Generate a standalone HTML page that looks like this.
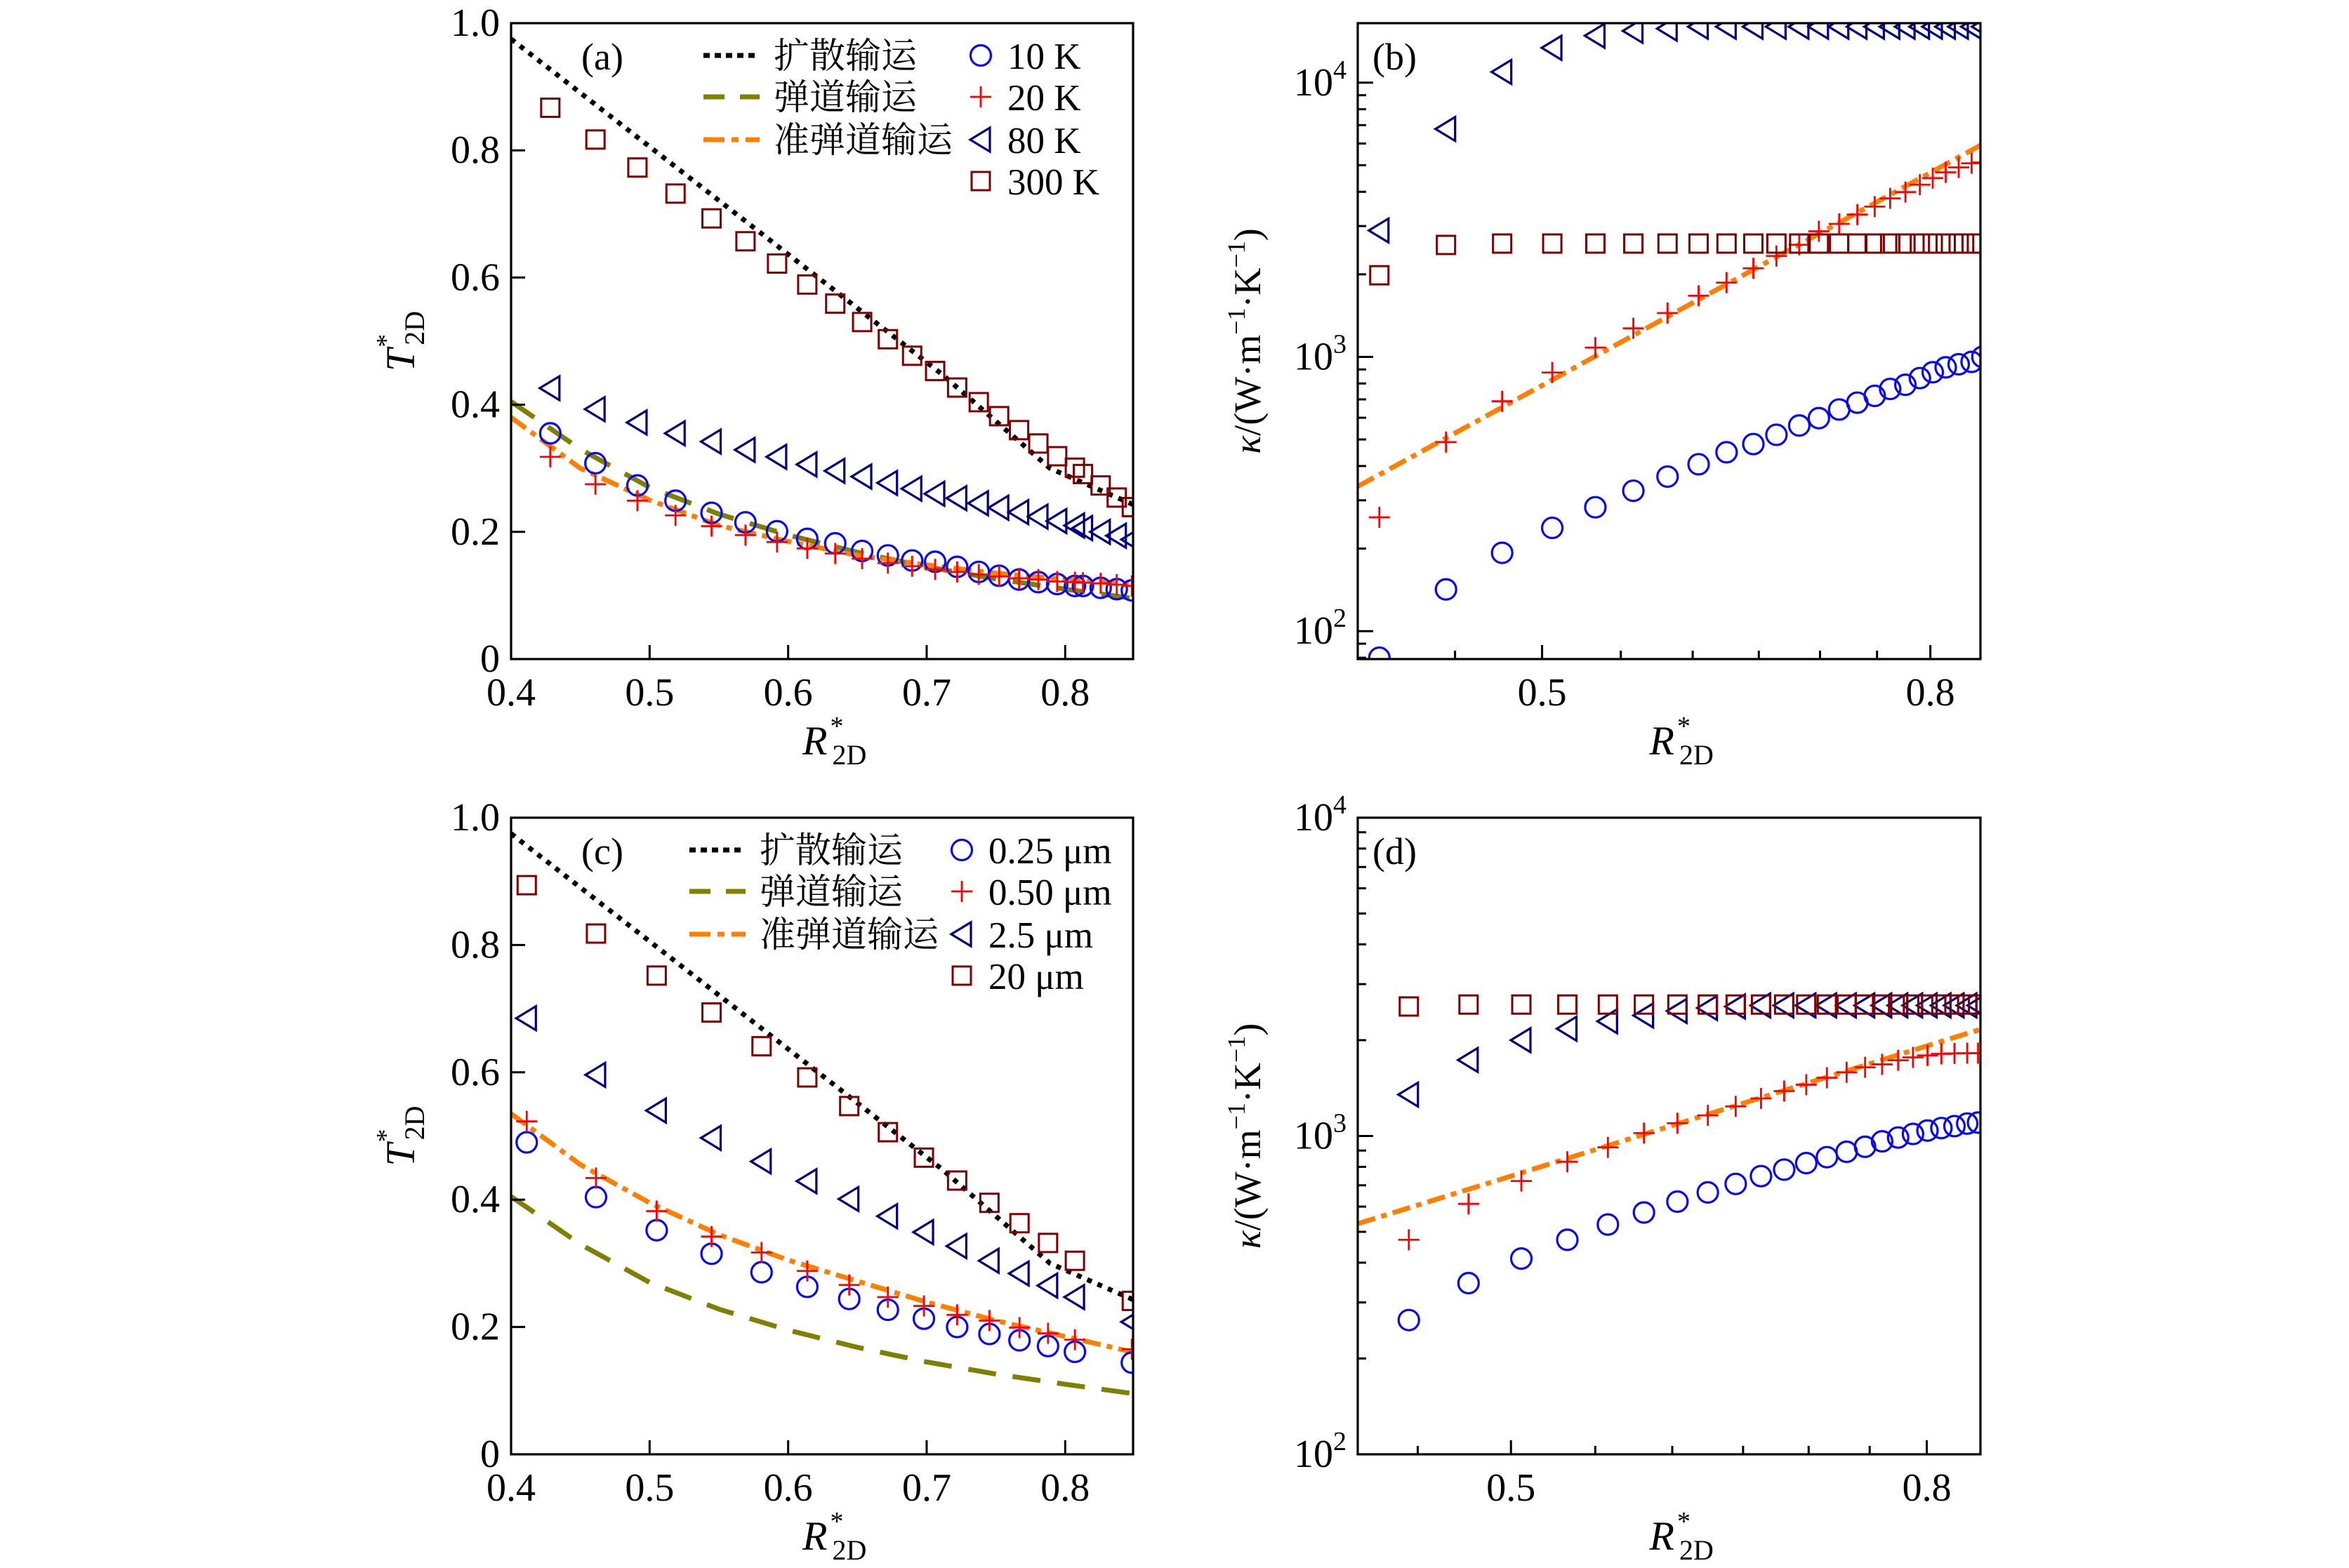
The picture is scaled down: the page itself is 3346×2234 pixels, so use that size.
<!DOCTYPE html>
<html><head><meta charset="utf-8">
<style>
html,body{margin:0;padding:0;background:#fff;}
svg{display:block;}
text{font-family:"Liberation Serif","Noto Serif CJK SC",serif;fill:#000;}
.cjk{font-family:"Liberation Serif","Noto Serif CJK SC","Noto Sans CJK SC",serif;}
</style></head>
<body>
<svg id="fig" width="3346" height="2234" viewBox="0 0 3346 2234" xmlns="http://www.w3.org/2000/svg"></svg>
<script>
// ---------- Data ----------
// Panel (a)
const rA = [0.4283,0.4609,0.4912,0.5187,0.5447,0.5692,0.5920,0.6138,0.6340,0.6534,0.6720,0.6895,0.7061,0.7220,0.7376,0.7523,0.7667,0.7806,0.7942,0.8070,0.8128,0.8256,0.8372,0.8481];
const a10K = [0.355,0.308,0.273,0.249,0.230,0.215,0.201,0.189,0.182,0.170,0.163,0.155,0.153,0.145,0.137,0.131,0.125,0.121,0.118,0.115,0.115,0.112,0.110,0.108];
const a20K = [0.318,0.275,0.249,0.226,0.209,0.195,0.184,0.174,0.166,0.158,0.151,0.146,0.141,0.137,0.133,0.130,0.127,0.125,0.122,0.121,0.120,0.119,0.117,0.115];
const a80K = [0.426,0.393,0.372,0.355,0.342,0.329,0.318,0.306,0.296,0.287,0.277,0.268,0.260,0.253,0.245,0.238,0.231,0.224,0.217,0.210,0.206,0.200,0.194,0.188];
const a300K = [0.867,0.817,0.773,0.732,0.693,0.657,0.622,0.589,0.559,0.530,0.503,0.477,0.453,0.427,0.404,0.382,0.360,0.339,0.319,0.301,0.291,0.273,0.254,0.239];
const diffR = [0.4,0.478,0.556,0.634,0.711,0.789,0.85];
const diffT = [0.975,0.843,0.711,0.579,0.448,0.300,0.242];
const lineR = [0.4,0.45,0.5,0.55,0.6,0.65,0.7,0.75,0.8,0.85];
const ballT = [0.405,0.33,0.27,0.228,0.195,0.168,0.145,0.126,0.11,0.095];
const quasiTa = [0.38,0.30,0.25,0.21,0.185,0.163,0.148,0.135,0.125,0.118];
// Panel (c)
const rC = [0.4113,0.4613,0.5051,0.5447,0.5808,0.6138,0.6441,0.6720,0.6980,0.7220,0.7453,0.7670,0.7876,0.8070,0.8481];
const c025 = [0.490,0.404,0.352,0.315,0.286,0.263,0.244,0.227,0.213,0.200,0.189,0.179,0.170,0.161,0.144];
const c050 = [0.523,0.434,0.382,0.342,0.317,0.288,0.266,0.247,0.233,0.219,0.210,0.199,0.190,0.180,0.165];
const c25 = [0.685,0.596,0.540,0.497,0.460,0.429,0.401,0.374,0.349,0.327,0.304,0.284,0.265,0.247,0.208];
const c20 = [0.894,0.818,0.752,0.694,0.641,0.592,0.547,0.506,0.466,0.430,0.395,0.363,0.332,0.304,0.241];
const quasiTc = [0.535,0.455,0.395,0.345,0.305,0.272,0.239,0.21,0.185,0.16];
// Panel (b)
const rB = [0.4106,0.4451,0.4764,0.5062,0.5333,0.5584,0.5820,0.6043,0.6251,0.6457,0.6640,0.6826,0.6990,0.7164,0.7323,0.7479,0.7620,0.7762,0.7899,0.8023,0.8150,0.8279,0.8410,0.8520];
const b10K = [80,142,193,238,283,325,366,406,449,481,520,562,598,643,681,721,764,791,837,879,916,940,959,1000];
const b20K = [260,489,689,877,1081,1271,1445,1671,1866,2104,2333,2564,2871,3055,3304,3532,3784,3990,4246,4487,4710,4909,5082,5117];
const b80K = [2890,6780,10940,13400,14830,15450,15740,16000,16000,16000,16000,16000,16000,16000,16000,16000,16000,16000,16000,16000,16000,16000,16000,16000];
const b300K = [1985,2560,2590,2590,2590,2590,2590,2590,2590,2590,2590,2590,2590,2590,2590,2590,2590,2590,2590,2590,2590,2590,2590,2590];
const quasiRb = [0.4,0.5,0.6,0.7,0.8,0.85];
const quasiKb = [337,787,1574,2827,4696,5910];
// Panel (d)
const rD = [0.4455,0.4766,0.5059,0.5329,0.5579,0.5811,0.6035,0.6246,0.6446,0.6633,0.6809,0.6981,0.7146,0.7307,0.7461,0.7606,0.7745,0.7876,0.8006,0.8133,0.8254,0.8374,0.8477];
const d025 = [264,345,412,472,527,575,622,665,707,748,784,822,858,892,925,962,989,1015,1040,1059,1074,1094,1102];
const d050 = [472,612,722,830,921,1021,1097,1161,1239,1312,1384,1449,1524,1585,1644,1679,1729,1766,1791,1811,1817,1820,1820];
const d25 = [1349,1733,2000,2173,2293,2392,2471,2525,2552,2572,2572,2572,2572,2572,2572,2572,2572,2572,2572,2572,2572,2572,2572];
const d20 = [2552,2588,2588,2588,2588,2588,2588,2588,2588,2588,2588,2588,2588,2588,2588,2588,2588,2588,2588,2588,2588,2588,2588];
const quasiRd = [0.4205,0.5,0.6,0.7,0.8,0.85];
const quasiKd = [530,748,1079,1469,1918,2163];
// Tick labels
const linXTicks = [0.4,0.5,0.6,0.7,0.8];
const linXLabels = ["0.4","0.5","0.6","0.7","0.8"];
const linYTicks = [0,0.2,0.4,0.6,0.8,1.0];
const linYLabels = ["0","0.2","0.4","0.6","0.8","1.0"];
const logXMinor = [0.45,0.5,0.55,0.6,0.65,0.7,0.75,0.8];
const logXMajor = [0.5,0.8];
const logXLabels = ["0.5","0.8"];
const logYMajor = [100,1000,10000];
const logYExp = ["2","3","4"];
const legendA = ["10 K","20 K","80 K","300 K"];
const legendC = ["0.25 μm","0.50 μm","2.5 μm","20 μm"];
const lineNames = ["扩散输运","弹道输运","准弹道输运"];

// ---------- Helpers ----------
const NS = "http://www.w3.org/2000/svg";
const svg = document.getElementById("fig");
function mk(tag, attrs, parent){
  const el = document.createElementNS(NS, tag);
  for (const k in attrs) el.setAttribute(k, attrs[k]);
  (parent||svg).appendChild(el);
  return el;
}
const C_BLUE="#0a0af0", C_RED="#ff0000", C_NAVY="#00007f", C_MAROON="#7f0000", C_OLIVE="#808000", C_ORANGE="#ff8000";

function marker(type, x, y, parent){
  let el;
  if (type==="circle"){
    el = mk("circle",{cx:x,cy:y,r:14.5,fill:"none",stroke:C_BLUE,"stroke-width":3.2},parent);
  } else if (type==="plus"){
    el = mk("path",{d:`M${x-15},${y}H${x+15}M${x},${y-15}V${y+15}`,stroke:C_RED,"stroke-width":2.8,fill:"none"},parent);
  } else if (type==="tri"){
    el = mk("path",{d:`M${x-15},${y}L${x+13},${y-17}L${x+13},${y+17}Z`,fill:"none",stroke:C_NAVY,"stroke-width":3.2,"stroke-linejoin":"miter"},parent);
  } else {
    el = mk("rect",{x:x-13,y:y-13,width:26,height:26,fill:"none",stroke:C_MAROON,"stroke-width":3},parent);
  }
  return el;
}
const lineStyles = {
  diff:{stroke:"#000","stroke-width":7,"stroke-dasharray":"7 9"},
  ball:{stroke:C_OLIVE,"stroke-width":7,"stroke-dasharray":"40 24"},
  quasi:{stroke:C_ORANGE,"stroke-width":7,"stroke-dasharray":"26 9 8 9"}
};
function drawLine(g, xs, ys, fx, fy, style){
  let d = "";
  for (let i=0;i<xs.length;i++){
    d += (i===0?"M":"L") + fx(xs[i]).toFixed(1) + "," + fy(ys[i]).toFixed(1);
  }
  const attrs = {d:d,fill:"none"};
  for (const k in style) attrs[k]=style[k];
  return mk("path", attrs, g);
}

function panel(cfg){
  const g = mk("g",{});
  
  
  const {L,R,T,B} = cfg;
  const clipId = cfg.name+"-clip";
  const cp = mk("clipPath",{id:clipId},g);
  mk("rect",{x:L,y:T,width:R-L,height:B-T},cp);
  const plot = mk("g",{"clip-path":`url(#${clipId})`},g);
  
  
  cfg.lines.forEach(ln=>{
    const p = drawLine(plot, ln.x, ln.y, cfg.fx, cfg.fy, lineStyles[ln.style]);
    
    
  });
  cfg.series.forEach(s=>{
    const sg = mk("g",{},plot);
    
    
    for (let i=0;i<s.y.length;i++){
      const m = marker(s.type, cfg.fx(s.x[i]), cfg.fy(s.y[i]), sg);
      
      
    }
  });
  const fr = mk("rect",{x:L,y:T,width:R-L,height:B-T,fill:"none",stroke:"#000","stroke-width":3.2},g);
  
  
  const tg = mk("g",{stroke:"#000","stroke-width":3},g);
  
  
  cfg.xTicks.forEach(t=>{ const x=cfg.fx(t.v); mk("line",{x1:x,x2:x,y1:B,y2:B-t.len},tg); });
  cfg.yTicks.forEach(t=>{ const y=cfg.fy(t.v); mk("line",{x1:L,x2:L+t.len,y1:y,y2:y},tg); });
  cfg.xLabels.forEach(t=>{
    const tx = mk("text",{x:cfg.fx(t.v),y:B+66,"font-size":56,"text-anchor":"middle"},g);
    tx.textContent = t.s;
    
    
  });
  cfg.yLabels.forEach(t=>{
    const tx = mk("text",{x:L-16,y:cfg.fy(t.v)+18,"font-size":56,"text-anchor":"end"},g);
    if (t.exp){
      tx.textContent = "10";
      const sp = mk("tspan",{dy:-24,"font-size":38},tx); sp.textContent=t.exp;
    } else tx.textContent = t.s;
    
    
  });
  const xt = mk("text",{x:(L+R)/2-28,y:B+136,"font-size":58,"font-style":"italic"},g);
  xt.textContent="R";
  const s1 = mk("tspan",{dx:4,dy:-28,"font-size":38,"font-style":"normal"},xt); s1.textContent="*";
  const s2 = mk("tspan",{dx:-16,dy:42,"font-size":40,"font-style":"normal"},xt); s2.textContent="2D";
  
  
  const yt = mk("text",{transform:`translate(${cfg.yTitleX},${(T+B)/2}) rotate(-90)`,"font-size":cfg.log?54:58,"text-anchor":"middle"},g);
  if (cfg.log){
    const a = mk("tspan",{"font-style":"italic"},yt); a.textContent="κ";
    const b = mk("tspan",{},yt); b.textContent="/(W·m";
    const c = mk("tspan",{dy:-22,"font-size":36},yt); c.textContent="−1";
    const d = mk("tspan",{dy:22},yt); d.textContent="·K";
    const e = mk("tspan",{dy:-22,"font-size":36},yt); e.textContent="−1";
    const f = mk("tspan",{dy:22},yt); f.textContent=")";
  } else {
    const a = mk("tspan",{"font-style":"italic"},yt); a.textContent="T";
    const b = mk("tspan",{dx:2,dy:-28,"font-size":38},yt); b.textContent="*";
    const c = mk("tspan",{dx:-16,dy:42,"font-size":40},yt); c.textContent="2D";
  }
  
  
  const pl = mk("text",{x:cfg.labX,y:T+66,"font-size":54},g);
  pl.textContent = cfg.label;
  
  
  if (cfg.legend){
    const lg = mk("g",{},g);
    
    
    const lx = cfg.legend.lineX, ty=[T+46, T+105, T+166, T+225];
    ["diff","ball","quasi"].forEach((st,i)=>{
      const e = mk("g",{},lg);
      
      
      const at={x1:lx,x2:lx+80,y1:ty[i],y2:ty[i]}; for(const k in lineStyles[st]) at[k]=lineStyles[st][k];
      if(st==="diff") at["stroke-dasharray"]="9 7";
      if(st==="ball") at["stroke-dasharray"]="30 22";
      if(st==="quasi") at["stroke-dasharray"]="30 10 10 10";
      mk("line",at,e);
      const t = mk("text",{x:lx+100,y:ty[i]+18,"font-size":51,class:"cjk"},e); t.textContent=lineNames[i];
    });
    const mx = cfg.legend.mkX;
    ["circle","plus","tri","sq"].forEach((tp,i)=>{
      const e = mk("g",{},lg);
      
      
      marker(tp, mx, ty[i], e);
      const t = mk("text",{x:mx+38,y:ty[i]+19,"font-size":53},e); t.textContent=cfg.legend.names[i];
    });
  }
}

// ---------- Scales ----------
function linX(L,R){ return v=> L + (v-0.4)/(0.849-0.4)*(R-L); }
function linY(T,B){ return v=> B - v*(B-T); }
function logX(L,R,x0,x1){ return v=> L + Math.log10(v/x0)/Math.log10(x1/x0)*(R-L); }
function logY(T,B,y0,y1){ return v=> B - Math.log10(v/y0)/Math.log10(y1/y0)*(B-T); }
function logMinorY(y0,y1){ const out=[]; for(let e=1;e<=4;e++){ for(let m=1;m<=9;m++){ const v=m*Math.pow(10,e); if(v>=y0&&v<=y1) out.push({v:v,len:m===1?22:12}); } } return out; }

// Panel a
(function(){
  const L=728,R=1614,T=33,B=939;
  panel({name:"panel-a",L,R,T,B,fx:linX(L,R),fy:linY(T,B),label:"(a)",labX:828,yTitleX:590,
    lines:[{name:"diffusive-line",x:diffR,y:diffT,style:"diff"},{name:"ballistic-line",x:lineR,y:ballT,style:"ball"},{name:"quasi-ballistic-line",x:lineR,y:quasiTa,style:"quasi"}],
    series:[{name:"series-10K",type:"circle",x:rA,y:a10K},{name:"series-20K",type:"plus",x:rA,y:a20K},{name:"series-80K",type:"tri",x:rA,y:a80K},{name:"series-300K",type:"sq",x:rA,y:a300K}],
    xTicks:linXTicks.map(v=>({v:v,len:20})), yTicks:linYTicks.map(v=>({v:v,len:20})),
    xLabels:linXTicks.map((v,i)=>({v:v,s:linXLabels[i]})), yLabels:linYTicks.map((v,i)=>({v:v,s:linYLabels[i]})),
    legend:{lineX:1002,mkX:1397,names:legendA}});
})();
// Panel c
(function(){
  const L=728,R=1614,T=1165,B=2072;
  panel({name:"panel-c",L,R,T,B,fx:linX(L,R),fy:linY(T,B),label:"(c)",labX:828,yTitleX:590,
    lines:[{name:"diffusive-line",x:diffR,y:diffT,style:"diff"},{name:"ballistic-line",x:lineR,y:ballT,style:"ball"},{name:"quasi-ballistic-line",x:lineR,y:quasiTc,style:"quasi"}],
    series:[{name:"series-0.25um",type:"circle",x:rC,y:c025},{name:"series-0.50um",type:"plus",x:rC,y:c050},{name:"series-2.5um",type:"tri",x:rC,y:c25},{name:"series-20um",type:"sq",x:rC,y:c20}],
    xTicks:linXTicks.map(v=>({v:v,len:20})), yTicks:linYTicks.map(v=>({v:v,len:20})),
    xLabels:linXTicks.map((v,i)=>({v:v,s:linXLabels[i]})), yLabels:linYTicks.map((v,i)=>({v:v,s:linYLabels[i]})),
    legend:{lineX:982,mkX:1370,names:legendC}});
})();
// Panel b
(function(){
  const L=1934,R=2821,T=33,B=939, y0=79.1, y1=16480;
  panel({name:"panel-b",L,R,T,B,log:true,fx:logX(L,R,0.4,0.85),fy:logY(T,B,y0,y1),label:"(b)",labX:1955,yTitleX:1795,
    lines:[{name:"quasi-ballistic-line",x:quasiRb,y:quasiKb,style:"quasi"}],
    series:[{name:"series-10K",type:"circle",x:rB,y:b10K},{name:"series-20K",type:"plus",x:rB,y:b20K},{name:"series-80K",type:"tri",x:rB,y:b80K},{name:"series-300K",type:"sq",x:rB,y:b300K}],
    xTicks:logXMinor.map(v=>({v:v,len:logXMajor.indexOf(v)>=0?20:12})), yTicks:logMinorY(y0,y1),
    xLabels:logXMajor.map((v,i)=>({v:v,s:logXLabels[i]})), yLabels:logYMajor.map((v,i)=>({v:v,exp:logYExp[i]}))});
})();
// Panel d
(function(){
  const L=1934,R=2821,T=1165,B=2072, y0=100, y1=10000;
  panel({name:"panel-d",L,R,T,B,log:true,fx:logX(L,R,0.4205,0.85),fy:logY(T,B,y0,y1),label:"(d)",labX:1955,yTitleX:1795,
    lines:[{name:"quasi-ballistic-line",x:quasiRd,y:quasiKd,style:"quasi"}],
    series:[{name:"series-0.25um",type:"circle",x:rD,y:d025},{name:"series-0.50um",type:"plus",x:rD,y:d050},{name:"series-2.5um",type:"tri",x:rD,y:d25},{name:"series-20um",type:"sq",x:rD,y:d20}],
    xTicks:logXMinor.map(v=>({v:v,len:logXMajor.indexOf(v)>=0?20:12})), yTicks:logMinorY(y0,y1),
    xLabels:logXMajor.map((v,i)=>({v:v,s:logXLabels[i]})), yLabels:logYMajor.map((v,i)=>({v:v,exp:logYExp[i]}))});
})();
</script>
</body></html>
